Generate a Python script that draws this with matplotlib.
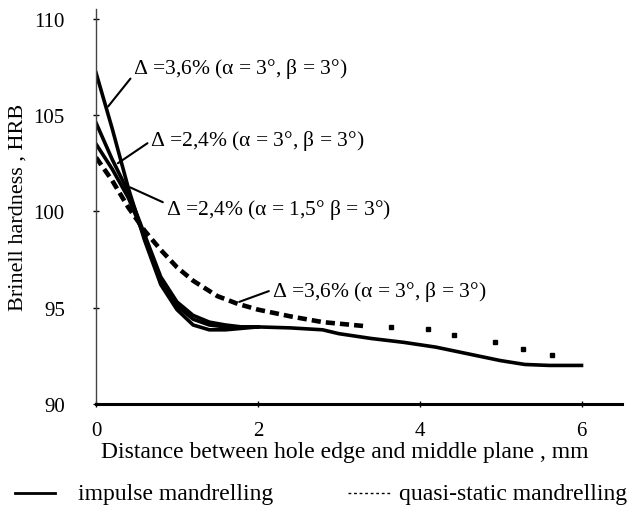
import matplotlib
matplotlib.use("Agg")
import matplotlib.pyplot as plt
from matplotlib.lines import Line2D

plt.rcParams['font.family'] = ['Liberation Serif', 'DejaVu Serif']
plt.rcParams['mathtext.fontset'] = 'custom'
plt.rcParams['mathtext.rm'] = 'Liberation Serif'
plt.rcParams['mathtext.it'] = 'Liberation Serif:italic'
plt.rcParams['mathtext.bf'] = 'Liberation Serif:bold'

# ---- data ----
x_imp36 = [0, 0.2, 0.4, 0.6, 0.8, 1.0, 1.2, 1.4, 1.6, 2.0, 2.4, 2.8, 3.0, 3.4, 3.8, 4.2, 4.6, 5.0, 5.3, 5.6, 6.0]
y_imp36 = [107.2, 104.3, 101.2, 98.5, 96.2, 94.9, 94.1, 93.85, 93.85, 94.0, 93.95, 93.85, 93.65, 93.4, 93.2, 92.95, 92.6, 92.25, 92.05, 92.0, 92.0]

x_imp24a = [0, 0.2, 0.4, 0.6, 0.8, 1.0, 1.2, 1.4, 1.6, 1.8, 2.0]
y_imp24a = [104.6, 102.7, 101.0, 98.8, 96.6, 95.3, 94.6, 94.25, 94.1, 94.0, 94.0]

x_imp24b = [0, 0.2, 0.4, 0.6, 0.8, 1.0, 1.2, 1.4, 1.6, 2.0]
y_imp24b = [103.5, 102.2, 100.7, 98.7, 96.5, 95.1, 94.4, 94.1, 94.0, 94.0]

x_qs36 = [0, 0.2, 0.4, 0.6, 0.8, 1.0, 1.2, 1.5, 1.75, 2.0, 2.4, 2.8, 3.3]
y_qs36 = [102.8, 101.6, 100.2, 99.0, 98.0, 97.1, 96.4, 95.6, 95.2, 94.9, 94.55, 94.25, 94.05]
x_qs36_tail = [3.65, 4.1, 4.42, 4.93, 5.28, 5.63]
y_qs36_tail = [94.0, 93.9, 93.6, 93.2, 92.85, 92.55]

x_ticks = [0, 2, 4, 6]
y_ticks = [90, 95, 100, 105, 110]

labels_ann = [
    r"Δ =3,6% (α = $\mathit{3}$°, β = $\mathit{3}$°)",
    r"Δ =2,4% (α = $\mathit{3}$°, β = $\mathit{3}$°)",
    r"Δ =2,4% (α = $\mathit{1{,}5}$° β = $\mathit{3}$°)",
    r"Δ =3,6% (α = $\mathit{3}$°, β = $\mathit{3}$°)",
]
legend_labels = ["impulse mandrelling", "quasi-static mandrelling"]

fig = plt.figure(figsize=(6.41, 5.10), dpi=100)
ax = fig.add_axes([0.1498, 0.206, 0.8205, 0.774])

lw = 2.6
ax.plot(x_imp36, y_imp36, color='black', lw=lw)
ax.plot(x_imp24a, y_imp24a, color='black', lw=lw)
ax.plot(x_imp24b, y_imp24b, color='black', lw=lw)
ax.plot(x_qs36, y_qs36, color='black', lw=3.3, dashes=(2.0, 1.1))
ax.plot(x_qs36_tail, y_qs36_tail, color='black', lw=0, marker='s', ms=3.2)

ax.set_xlim(0, 6.5)
ax.set_ylim(90, 110.5)
ax.set_xticks(x_ticks)
ax.set_yticks(y_ticks)
ax.tick_params(axis='y', direction='inout', length=5, width=1, pad=20, labelsize=15)
ax.tick_params(axis='x', direction='inout', length=5, width=1, pad=10, labelsize=15)

for s in ['top', 'right']:
    ax.spines[s].set_visible(False)
ax.spines['left'].set_linewidth(1.0)
ax.spines['left'].set_color('#444444')
ax.spines['bottom'].set_linewidth(2.2)

ax.set_xlabel("Distance between hole edge and middle plane , mm", fontsize=17)
ax.xaxis.set_label_coords(0.473, -0.095)
ax.set_ylabel("Brinell hardness , HRB", fontsize=16, labelpad=4)

ann_text_pos = [(0.46, 107.45), (0.67, 103.7), (0.86, 100.1), (2.17, 95.85)]
ann_target = [(0.15, 105.45), (0.27, 102.5), (0.42, 101.25), (1.77, 95.3)]
ann_relpos = [(0.0, 0.2), (0.0, 0.45), (0.0, 0.75), (0.0, 0.55)]
for lab, tp, tg, rp in zip(labels_ann, ann_text_pos, ann_target, ann_relpos):
    ax.annotate(lab, xy=tg, xytext=tp, fontsize=15.5, ha='left', va='center',
                arrowprops=dict(arrowstyle='-', color='black', lw=1.5,
                                relpos=rp, shrinkA=0, shrinkB=0))

# legend row below the x label
ly = 0.031
fig.add_artist(Line2D([15 / 641, 55 / 641], [ly, ly], color='black', lw=2.0))
fig.text(78 / 641, ly, legend_labels[0], fontsize=17, ha='left', va='center')
fig.add_artist(Line2D([348 / 641, 390 / 641], [ly, ly], color='black', lw=1.0, ls=(0, (2, 2))))
fig.text(399 / 641, ly, legend_labels[1], fontsize=17, ha='left', va='center')

fig.savefig("out.png", dpi=100)
